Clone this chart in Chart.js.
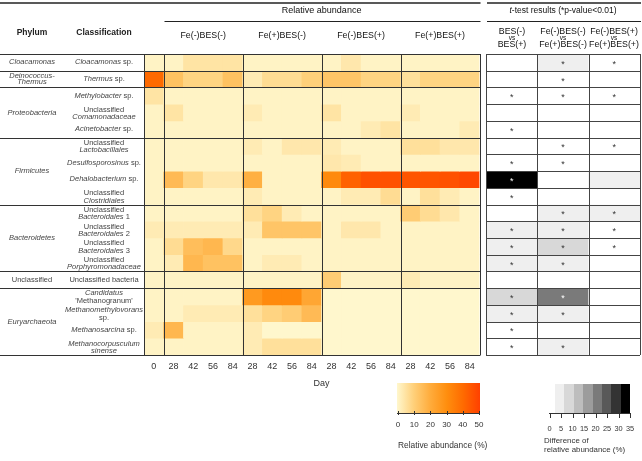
<!DOCTYPE html>
<html>
<head>
<meta charset="utf-8">
<script src="https://cdn.jsdelivr.net/npm/chart.js@4.4.1/dist/chart.umd.min.js"></script>
<style>
  body { margin: 0; background: #fff; }
  #wrap { position: relative; width: 642px; height: 461px; overflow: hidden;
          font-family: "Liberation Sans", Arial, sans-serif; color: #333; }
  canvas { position: absolute; top: 0; }
  .t { position: absolute; transform: translate(-50%, -50%); white-space: nowrap; text-align: center; }
  .l { position: absolute; transform: translate(0, -50%); white-space: nowrap; }
</style>
</head>
<body>
<div id="wrap">
  <canvas id="heat" width="642" height="461" style="left:0;width:642px;height:461px"></canvas>
  <canvas id="ttest" width="160" height="461" style="left:482px;width:160px;height:461px"></canvas>
</div>
<script>
// ---- data ----
const days = ['0', '28', '42', '56', '84', '28', '42', '56', '84', '28', '42', '56', '84', '28', '42', '56', '84'];
const groups = ['Fe(-)BES(-)', 'Fe(+)BES(-)', 'Fe(-)BES(+)', 'Fe(+)BES(+)'];

const taxa = [
  '<i>Cloacamonas</i> sp.',
  '<i>Thermus</i> sp.',
  '<i>Methylobacter</i> sp.',
  'Unclassified<br><i>Comamonadaceae</i>',
  '<i>Acinetobacter</i> sp.',
  'Unclassified<br><i>Lactobacillales</i>',
  '<i>Desulfosporosinus</i> sp.',
  '<i>Dehalobacterium</i> sp.',
  'Unclassified<br><i>Clostridiales</i>',
  'Unclassified<br><i>Bacteroidales</i> 1',
  'Unclassified<br><i>Bacteroidales</i> 2',
  'Unclassified<br><i>Bacteroidales</i> 3',
  'Unclassified<br><i>Porphyromonadaceae</i>',
  'Unclassified bacteria',
  '<i>Candidatus</i><br>\'Methanogranum\'',
  '<i>Methanomethylovorans</i><br>sp.',
  '<i>Methanosarcina</i> sp.',
  '<i>Methanocorpusculum</i><br><i>sinense</i>'
];

const phyla = ['<i>Cloacamonas</i>', '<i>Deinococcus-</i><br><i>Thermus</i>', '<i>Proteobacteria</i>',
  '<i>Firmicutes</i>', '<i>Bacteroidetes</i>', 'Unclassified', '<i>Euryarchaeota</i>'];
const phylumFirst = [0, 1, 2, 5, 9, 13, 14];
const phylumLast = [0, 1, 4, 8, 12, 13, 17];

// relative abundance (%), columns: day 0, then 4 x (28, 42, 56, 84)
const abundance = [
  [1, 1, 5, 5, 5, 1, 1, 1, 1, 1, 4, 1, 1, 1, 1, 1, 1],
  [40, 14, 9, 9, 14, 3, 7, 7, 10, 13, 13, 9, 9, 6, 9, 9, 9],
  [5, 1, 1, 1, 1, 1, 1, 1, 1, 1, 1, 1, 1, 1, 1, 1, 1],
  [1, 5, 1, 1, 1, 3, 1, 1, 1, 5, 1, 1, 1, 3, 1, 1, 1],
  [1, 1, 1, 1, 1, 1, 1, 1, 1, 1, 1, 3, 5, 1, 1, 1, 3],
  [1, 1, 1, 1, 1, 3, 1, 4, 4, 3, 1, 1, 1, 6, 6, 4, 4],
  [1, 1, 1, 1, 1, 1, 1, 1, 1, 4, 3, 1, 1, 1, 1, 1, 1],
  [1, 16, 9, 4, 4, 19, 1, 1, 1, 31, 42, 46, 46, 45, 45, 46, 48],
  [1, 1, 1, 1, 1, 3, 1, 1, 1, 1, 3, 3, 7, 1, 6, 3, 1],
  [1, 1, 1, 1, 1, 6, 9, 3, 1, 1, 1, 1, 1, 11, 7, 4, 1],
  [3, 3, 3, 3, 3, 3, 13, 13, 13, 1, 4, 4, 1, 1, 1, 1, 1],
  [1, 7, 15, 17, 8, 1, 1, 1, 1, 1, 1, 1, 1, 1, 1, 1, 1],
  [1, 3, 17, 14, 14, 1, 3, 3, 1, 1, 1, 1, 1, 1, 1, 1, 1],
  [1, 1, 1, 1, 1, 1, 1, 1, 1, 11, 1, 1, 1, 3, 1, 1, 1],
  [1, 1, 1, 1, 1, 26, 31, 31, 22, 0, 0, 0, 0, 0, 0, 0, 0],
  [1, 1, 3, 3, 3, 6, 9, 11, 16, 0, 0, 0, 0, 0, 0, 0, 0],
  [3, 17, 1, 1, 1, 3, 0, 0, 0, 0, 0, 0, 0, 0, 0, 0, 0],
  [1, 1, 1, 1, 1, 3, 6, 6, 6, 0, 0, 0, 0, 0, 0, 0, 0]
];

// t-test: difference of relative abundance (%) and significance (*p<0.01)
const ttestHeads = [['BES(-)', 'BES(+)'], ['Fe(-)BES(-)', 'Fe(+)BES(-)'], ['Fe(-)BES(+)', 'Fe(+)BES(+)']];
const diffBES     = [0, 0, 0, 0, 0, 0, 0, 36, 0, 0, 3, 3, 3, 0, 8, 3, 0, 0];
const diffFeNoBES = [3, 0, 0, 0, 0, 0, 0, 0, 0, 3, 3, 8, 3, 0, 22, 3, 0, 3];
const diffFeBES   = [0, 0, 0, 0, 0, 0, 0, 3, 0, 3, 0, 0, 0, 0, 0, 0, 0, 0];
const sigBES      = [0, 0, 1, 0, 1, 0, 1, 1, 1, 0, 1, 1, 1, 0, 1, 1, 1, 1];
const sigFeNoBES  = [1, 1, 1, 0, 0, 1, 1, 0, 0, 1, 1, 1, 1, 0, 1, 1, 0, 1];
const sigFeBES    = [1, 0, 1, 0, 0, 1, 0, 0, 0, 1, 1, 1, 0, 0, 0, 0, 0, 0];

const abundTicks = [0, 10, 20, 30, 40, 50];
const diffTicks = [0, 5, 10, 15, 20, 25, 30, 35];

// ---- colour scales ----
const orangeStops = [[0, [255, 247, 205]], [10, [255, 208, 122]], [20, [255, 172, 60]],
  [30, [255, 142, 14]], [40, [255, 106, 0]], [50, [255, 64, 0]]];
function orangeFor(v) {
  v = Math.max(0, Math.min(50, v));
  for (let i = 1; i < orangeStops.length; i++) {
    const [v0, c0] = orangeStops[i - 1], [v1, c1] = orangeStops[i];
    if (v <= v1) {
      const t = (v - v0) / (v1 - v0);
      return 'rgb(' + c0.map((c, k) => Math.round(c + (c1[k] - c) * t)).join(',') + ')';
    }
  }
}
const grayPalette = ['#efefef', '#d8d8d8', '#bdbdbd', '#9c9c9c', '#7a7a7a', '#595959', '#333333', '#000000'];
function grayFor(v) {
  if (v <= 0) return '#ffffff';
  return grayPalette[Math.min(grayPalette.length - 1, Math.floor(v / 5))];
}

Chart.defaults.font.family = '"Liberation Sans", Arial, sans-serif';
const px = v => Math.round(v) + 0.5;

function hline(ctx, x0, x1, y) { ctx.beginPath(); ctx.moveTo(x0, y); ctx.lineTo(x1, y); ctx.stroke(); }
function vline(ctx, x, y0, y1) { ctx.beginPath(); ctx.moveTo(x, y0); ctx.lineTo(x, y1); ctx.stroke(); }

// table rules over the heatmap
const heatLines = {
  id: 'heatLines',
  afterDatasetsDraw(chart) {
    const { ctx, chartArea: a, scales: { x, y } } = chart;
    ctx.save();
    ctx.strokeStyle = '#333';
    ctx.lineWidth = 1;
    [...phylumFirst, taxa.length].forEach(b => hline(ctx, 0, a.right + 1, px(y.getPixelForValue(b))));
    const cuts = [0, ...groups.map((g, i) => 1 + i * 4), days.length];
    cuts.forEach(i => vline(ctx, px(x.getPixelForValue(i - 0.5)), a.top, a.bottom));
    // header rules
    ctx.strokeStyle = '#222';
    ctx.lineWidth = 1.3;
    hline(ctx, 0, a.right + 1, 3);
    hline(ctx, 487, 641, 3);
    ctx.lineWidth = 1;
    hline(ctx, px(x.getPixelForValue(0.5)), a.right + 1, 21.5);
    hline(ctx, 487, 641, 21.5);
    ctx.restore();
  }
};

const heat = new Chart(document.getElementById('heat'), {
  type: 'bar',
  data: {
    labels: days,
    datasets: abundance.map((row, r) => ({
      label: taxa[r],
      data: row.map(() => 1),
      backgroundColor: row.map(orangeFor),
      borderWidth: 0,
      barPercentage: 1,
      categoryPercentage: 1
    }))
  },
  options: {
    responsive: false,
    animation: false,
    layout: { padding: { left: 144, right: 162.5, top: 54, bottom: 76 } },
    plugins: { legend: { display: false }, tooltip: { enabled: false } },
    scales: {
      x: {
        stacked: true,
        grid: { display: false, drawTicks: false },
        border: { display: false },
        ticks: { color: '#333', font: { size: 9 }, padding: 6, maxRotation: 0, autoSkip: false },
        afterFit: s => { s.height = 30; }
      },
      y: { display: false, stacked: true, min: 0, max: taxa.length, reverse: true }
    }
  },
  plugins: [heatLines]
});

// cell rules and significance marks for the t-test table
const ttestGrid = {
  id: 'ttestGrid',
  afterDatasetsDraw(chart) {
    const { ctx, chartArea: a, scales: { x, y } } = chart;
    ctx.save();
    ctx.strokeStyle = '#444';
    ctx.lineWidth = 1;
    for (let r = 0; r <= taxa.length; r++) hline(ctx, a.left, a.right, px(y.getPixelForValue(r)));
    for (let c = 0; c <= ttestHeads.length; c++) vline(ctx, px(x.getPixelForValue(c - 0.5)), a.top, a.bottom);
    const sig = [sigBES, sigFeNoBES, sigFeBES];
    const diff = [diffBES, diffFeNoBES, diffFeBES];
    ctx.font = '9px "Liberation Sans", Arial, sans-serif';
    ctx.textAlign = 'center';
    ctx.textBaseline = 'middle';
    sig.forEach((col, c) => col.forEach((s, r) => {
      if (!s) return;
      ctx.fillStyle = diff[c][r] >= 20 ? '#fff' : '#333';
      ctx.fillText('*', x.getPixelForValue(c), y.getPixelForValue(r + 0.5) + 2);
    }));
    ctx.restore();
  }
};

new Chart(document.getElementById('ttest'), {
  type: 'bar',
  data: {
    labels: ttestHeads.map(h => h.join(' vs ')),
    datasets: taxa.map((t, r) => ({
      label: t,
      data: ttestHeads.map(() => 1),
      backgroundColor: [diffBES[r], diffFeNoBES[r], diffFeBES[r]].map(grayFor),
      borderWidth: 0,
      barPercentage: 1,
      categoryPercentage: 1
    }))
  },
  options: {
    responsive: false,
    animation: false,
    layout: { padding: { left: 4, right: 2, top: 54, bottom: 106 } },
    plugins: { legend: { display: false }, tooltip: { enabled: false } },
    scales: {
      x: { display: false, stacked: true },
      y: { display: false, stacked: true, min: 0, max: taxa.length, reverse: true }
    }
  },
  plugins: [ttestGrid]
});

// ---- text ----
const wrap = document.getElementById('wrap');
function addText(html, x, y, css, cls) {
  const d = document.createElement('div');
  d.className = cls || 't';
  d.innerHTML = html;
  d.style.left = x + 'px';
  d.style.top = y + 'px';
  d.style.cssText += css || '';
  wrap.appendChild(d);
  return d;
}
const hx = heat.scales.x, hy = heat.scales.y;
const rowY = r => hy.getPixelForValue(r + 0.5);
const labelCss = 'font-size:7.5px;line-height:7.4px;color:#444;';

addText('Phylum', 32, 32, 'font-size:8.5px;font-weight:bold;color:#222;');
addText('Classification', 104, 32, 'font-size:8.5px;font-weight:bold;color:#222;');
addText('Relative abundance', hx.getPixelForValue(8.5), 10, 'font-size:9px;color:#111;');
groups.forEach((g, i) => addText(g, hx.getPixelForValue(i * 4 + 2.5), 35, 'font-size:8.8px;color:#111;'));

taxa.forEach((t, r) => addText(t, 104, rowY(r), labelCss));
phyla.forEach((p, i) => {
  const y = (hy.getPixelForValue(phylumFirst[i]) + hy.getPixelForValue(phylumLast[i] + 1)) / 2;
  addText(p, 32, y, labelCss + (i === 1 ? 'line-height:6.4px;' : ''));
});

addText('Day', hx.getPixelForValue(8.5), 383, 'font-size:9px;color:#333;');

addText('<i>t</i>-test results (*p-value&lt;0.01)', 563, 10, 'font-size:8.5px;color:#111;');
const tcx = [512, 563, 614];
ttestHeads.forEach((h, i) => {
  addText(h[0], tcx[i], 30.5, 'font-size:8.8px;color:#111;');
  addText('vs', tcx[i], 37.3, 'font-size:6.5px;color:#111;');
  addText(h[1], tcx[i], 43.8, 'font-size:8.8px;color:#111;');
});

// abundance colour bar
const ob = document.createElement('div');
ob.style.cssText = 'position:absolute;left:397px;top:383px;width:83px;height:30px;background:linear-gradient(to right,' +
  orangeStops.map(s => 'rgb(' + s[1].join(',') + ') ' + (s[0] * 2) + '%').join(',') + ');';
wrap.appendChild(ob);
const oa = document.createElement('div');
oa.style.cssText = 'position:absolute;left:397px;top:413px;width:83px;height:0;border-top:1px solid #333;';
wrap.appendChild(oa);
abundTicks.forEach((v, i) => {
  const x = 398 + i * 16.2;
  const tk = document.createElement('div');
  tk.style.cssText = 'position:absolute;left:' + x + 'px;top:411px;width:0;height:4px;border-left:1px solid #333;';
  wrap.appendChild(tk);
  addText(String(v), x, 423.5, 'font-size:8px;color:#333;');
});
addText('Relative abundance (%)', 398, 444.5, 'font-size:8.4px;color:#333;', 'l');

// difference grey bar
grayPalette.forEach((c, i) => {
  const d = document.createElement('div');
  d.style.cssText = 'position:absolute;left:' + (555 + i * 9.4) + 'px;top:384px;width:9.6px;height:29px;background:' + c + ';';
  wrap.appendChild(d);
});
const ga = document.createElement('div');
ga.style.cssText = 'position:absolute;left:549px;top:413px;width:81px;height:0;border-top:1px solid #333;';
wrap.appendChild(ga);
diffTicks.forEach((v, i) => {
  const x = 549.5 + i * 11.5;
  const tk = document.createElement('div');
  tk.style.cssText = 'position:absolute;left:' + x + 'px;top:413px;width:0;height:5px;border-left:1px solid #333;';
  wrap.appendChild(tk);
  addText(String(v), x, 428, 'font-size:7.4px;color:#333;');
});
addText('Difference of<br>relative abundance (%)', 544, 446, 'font-size:7.9px;line-height:8.6px;color:#333;', 'l');
</script>
</body>
</html>
